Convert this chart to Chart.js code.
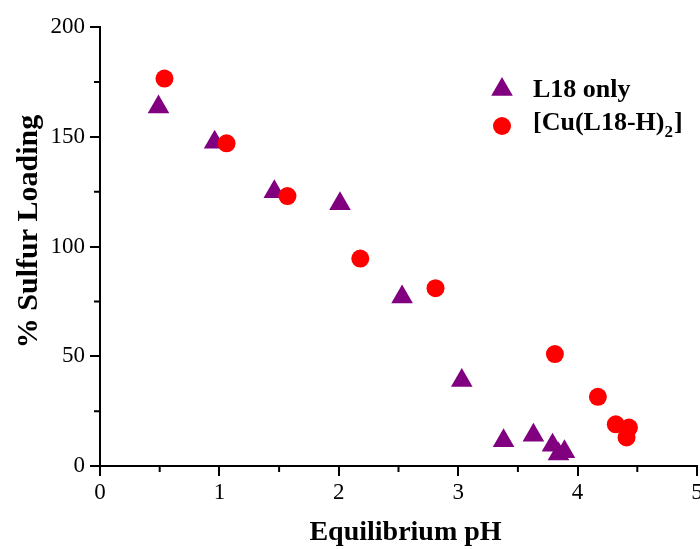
<!DOCTYPE html>
<html>
<head>
<meta charset="utf-8">
<script src="https://cdn.jsdelivr.net/npm/chart.js@4.4.1/dist/chart.umd.min.js"></script>
<style>
html, body { margin: 0; padding: 0; background: #fff; }
canvas { display: block; }
</style>
</head>
<body>
<canvas id="chart" width="700" height="549"></canvas>
<script>
// L18 only (triangles)
const l18PH   = [0.49, 0.96, 1.46, 2.01, 2.53, 3.03, 3.38, 3.63, 3.79, 3.84, 3.89];
const l18Load = [163.5, 147.5, 125, 119.5, 77, 39, 11.5, 14, 9.5, 5.5, 6.5];

// [Cu(L18-H)2] (circles)
const cuPH   = [0.54, 1.06, 1.57, 2.18, 2.81, 3.81, 4.17, 4.32, 4.43, 4.41];
const cuLoad = [176.5, 147, 123, 94.5, 81, 51, 31.5, 19, 17.5, 13];

const xTicks = [0, 1, 2, 3, 4, 5];
const yTicks = [0, 50, 100, 150, 200];

const toPoints = (xs, ys) => xs.map((x, i) => ({ x: x, y: ys[i] }));

const FONT = '"Liberation Serif", "Times New Roman", serif';

// short minor ticks between the labelled ones
const minorTicks = {
    id: 'minorTicks',
    afterDraw: (chart) => {
        const { ctx, scales: { x, y } } = chart;
        ctx.save();
        ctx.strokeStyle = '#000';
        ctx.lineWidth = 2;
        ctx.beginPath();
        for (let i = 0; i < xTicks.length - 1; i++) {
            const px = x.getPixelForValue((xTicks[i] + xTicks[i + 1]) / 2);
            ctx.moveTo(px, y.bottom);
            ctx.lineTo(px, y.bottom + 6);
        }
        for (let i = 0; i < yTicks.length - 1; i++) {
            const py = y.getPixelForValue((yTicks[i] + yTicks[i + 1]) / 2);
            ctx.moveTo(x.left, py);
            ctx.lineTo(x.left - 6, py);
        }
        ctx.stroke();
        ctx.restore();
    }
};

// legend drawn by hand so the subscript 2 can be drawn
const subLegend = {
    id: 'subLegend',
    afterDraw: (chart) => {
        const ctx = chart.ctx;
        const ds = chart.data.datasets;
        const mx = 502, tx = 533;
        const marks = [89.5, 126];
        const rows = [90.5, 123];
        ctx.save();
        ds.forEach((d, i) => {
            const opts = { pointStyle: d.pointStyle, radius: d.pointRadius, borderWidth: 0, rotation: 0 };
            ctx.fillStyle = d.backgroundColor;
            ctx.strokeStyle = d.backgroundColor;
            Chart.helpers.drawPoint(ctx, opts, mx, marks[i]);
        });
        ctx.fillStyle = '#000';
        ctx.textBaseline = 'middle';
        ctx.textAlign = 'left';
        ctx.font = 'bold 26px ' + FONT;
        ctx.fillText('L18 only', tx, rows[0]);
        const main = '[Cu(L18-H)';
        ctx.fillText(main, tx, rows[1]);
        let w = ctx.measureText(main).width;
        ctx.font = 'bold 17px ' + FONT;
        ctx.fillText('2', tx + w, rows[1] + 10);
        w += ctx.measureText('2').width + 1;
        ctx.font = 'bold 26px ' + FONT;
        ctx.fillText(']', tx + w, rows[1]);
        ctx.restore();
    }
};

new Chart(document.getElementById('chart').getContext('2d'), {
    type: 'scatter',
    data: {
        datasets: [
            {
                label: 'L18 only',
                data: toPoints(l18PH, l18Load),
                pointStyle: 'triangle',
                pointRadius: 12.5,
                pointHoverRadius: 12.5,
                backgroundColor: '#800080',
                borderColor: '#800080',
                borderWidth: 0,
                order: 2
            },
            {
                label: '[Cu(L18-H)2]',
                data: toPoints(cuPH, cuLoad),
                pointStyle: 'circle',
                pointRadius: 9,
                pointHoverRadius: 9,
                backgroundColor: '#FF0000',
                borderColor: '#FF0000',
                borderWidth: 0,
                order: 1
            }
        ]
    },
    options: {
        responsive: false,
        animation: false,
        layout: { autoPadding: false, padding: { top: 27, right: 3, left: 0, bottom: 0 } },
        plugins: {
            legend: { display: false },
            tooltip: { enabled: false }
        },
        scales: {
            x: {
                type: 'linear',
                min: 0,
                max: 5,
                afterBuildTicks: (scale) => { scale.ticks = xTicks.map(v => ({ value: v })); },
                afterFit: (scale) => {
                    scale.height = 83;
                    scale.paddingLeft = 0;
                    scale.paddingRight = 0;
                },
                border: { color: '#000', width: 2 },
                grid: { drawOnChartArea: false, color: '#000', lineWidth: 2, tickLength: 10 },
                ticks: {
                    color: '#000',
                    padding: 3,
                    maxRotation: 0,
                    font: { family: FONT, size: 23 }
                },
                title: {
                    display: true,
                    text: '  Equilibrium pH',
                    color: '#000',
                    padding: { top: 0, bottom: 2 },
                    font: { family: FONT, size: 28, weight: 'bold', lineHeight: 1 }
                }
            },
            y: {
                type: 'linear',
                min: 0,
                max: 200,
                afterBuildTicks: (scale) => { scale.ticks = yTicks.map(v => ({ value: v })); },
                afterFit: (scale) => {
                    scale.width = 100;
                    scale.paddingTop = 0;
                    scale.paddingBottom = 0;
                },
                border: { color: '#000', width: 2 },
                grid: { drawOnChartArea: false, color: '#000', lineWidth: 2, tickLength: 10 },
                ticks: {
                    color: '#000',
                    padding: 5,
                    font: { family: FONT, size: 23 }
                },
                title: {
                    display: true,
                    text: '    % Sulfur Loading',
                    color: '#000',
                    padding: { top: 14, bottom: 0 },
                    font: { family: FONT, size: 30, weight: 'bold', lineHeight: 1 }
                }
            }
        }
    },
    plugins: [minorTicks, subLegend]
});
</script>
</body>
</html>
